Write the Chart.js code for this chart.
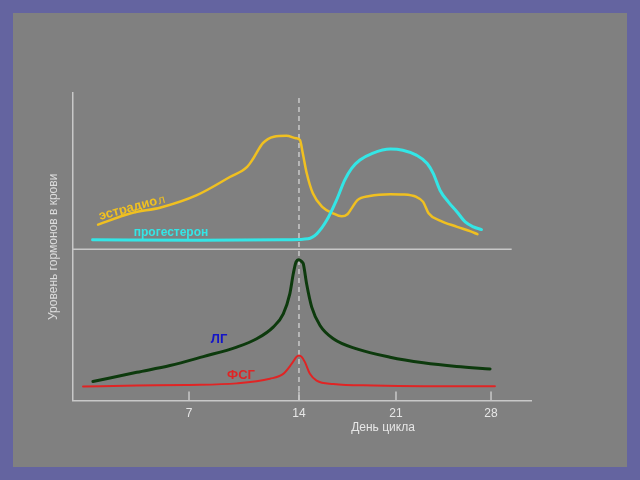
<!DOCTYPE html>
<html>
<head>
<meta charset="utf-8">
<script src="https://cdn.jsdelivr.net/npm/chart.js@4.4.0/dist/chart.umd.min.js"></script>
<style>
  html, body { margin: 0; padding: 0; background: #6464a0; }
  canvas { display: block; }
</style>
</head>
<body>
<canvas id="cycleChart" width="640" height="480"></canvas>
<script>
// дни цикла на оси X
const tickDays = [7, 14, 21, 28];

// эстрадиол
const estradiolDay = [1.2, 3.3, 5.2, 7.5, 9.6, 10.7, 11.1, 11.7, 12.4, 13.2, 13.8, 14.07, 14.27, 14.56, 15.0, 15.7, 16.45, 17.08, 17.5, 17.8, 18.2, 19.1, 20.6, 21.5, 22.5, 23.0, 23.4, 24.2, 25.5, 26.5, 27.0];
const estradiolLevel = [57.2, 60.9, 62.8, 66.8, 72.7, 76.0, 78.8, 83.7, 85.8, 86.1, 85.3, 84.7, 80.5, 73.9, 67.4, 62.9, 60.9, 59.9, 60.6, 62.5, 65.1, 66.5, 67.1, 67.0, 66.2, 64.6, 60.9, 58.6, 56.5, 55.0, 54.1];

// прогестерон
const progesteroneDay = [0.85, 7.7, 13.4, 14.65, 15.3, 16.0, 16.7, 17.3, 17.8, 18.4, 19.3, 20.6, 21.5, 22.5, 23.3, 23.75, 24.24, 24.85, 25.5, 26.1, 26.7, 27.3];
const progesteroneLevel = [52.3, 52.1, 52.3, 52.6, 54.3, 58.6, 65.1, 71.7, 75.5, 78.2, 80.4, 81.8, 81.4, 79.8, 77.1, 73.8, 68.4, 64.6, 61.3, 58.1, 56.5, 55.6];

// ЛГ
const lhDay = [0.87, 3.67, 5.79, 7.91, 10.04, 11.31, 12.36, 13.0, 13.42, 13.64, 13.81, 14.0, 14.22, 14.31, 14.55, 14.92, 15.52, 16.48, 18.17, 20.57, 23.01, 25.47, 27.93];
const lhLevel = [6.2, 9.2, 11.4, 14.3, 17.4, 20.1, 23.9, 28.2, 34.8, 41.3, 45.0, 45.8, 45.1, 44.5, 38.0, 30.4, 24.4, 20.1, 16.8, 14.1, 12.3, 11.1, 10.3];

// ФСГ
const fshDay = [0.24, 3.67, 6.85, 10.04, 12.15, 13.0, 13.54, 13.85, 14.0, 14.18, 14.43, 14.79, 15.27, 16.47, 19.36, 23.01, 28.29];
const fshLevel = [4.6, 4.9, 5.1, 5.6, 7.1, 8.7, 12.0, 14.3, 14.7, 14.3, 12.5, 8.7, 6.5, 5.4, 4.9, 4.7, 4.7];

// ось дней на рисунке нарисована неравномерно - кусочно-линейная шкала
const warpDays = [-0.4, 7, 14, 21, 28, 31];
const warpFrac = [0, 0.2533, 0.4934, 0.7052, 0.9127, 1];

function interp(v, from, to) {
    if (v <= from[0]) return to[0] + (v - from[0]) * (to[1] - to[0]) / (from[1] - from[0]);
    for (let i = 1; i < from.length; i++) {
        if (v <= from[i]) {
            const t = (v - from[i - 1]) / (from[i] - from[i - 1]);
            return to[i - 1] + t * (to[i] - to[i - 1]);
        }
    }
    const n = from.length - 1;
    return to[n] + (v - from[n]) * (to[n] - to[n - 1]) / (from[n] - from[n - 1]);
}

class WarpScale extends Chart.LinearScale {
    static id = 'warp';
    static defaults = {};
    getPixelForValue(value) {
        if (value === null || isNaN(value)) return NaN;
        return this.getPixelForDecimal(interp(value, warpDays, warpFrac));
    }
    getValueForPixel(pixel) {
        return interp(this.getDecimalForPixel(pixel), warpFrac, warpDays);
    }
}
Chart.register(WarpScale);

const toPoints = (xs, ys) => xs.map((d, i) => ({ x: d, y: ys[i] }));

const FONT = "'Liberation Sans', Arial, sans-serif";
const LINE_GRAY = '#c8c8c8';

const decor = {
    id: 'decor',
    beforeDraw(chart) {
        const c = chart.ctx;
        c.save();
        c.fillStyle = '#6464a0';
        c.fillRect(0, 0, chart.width, chart.height);
        c.fillStyle = '#808080';
        c.fillRect(13, 13, 614, 454);
        c.restore();
    },
    beforeDatasetsDraw(chart) {
        const { ctx, chartArea: a, scales: { x, y } } = chart;
        ctx.save();
        ctx.strokeStyle = LINE_GRAY;
        ctx.lineWidth = 1.5;
        // граница между панелями
        const ySep = y.getPixelForValue(49.2);
        ctx.beginPath();
        ctx.moveTo(a.left, ySep);
        ctx.lineTo(x.getPixelForValue(29.55), ySep);
        ctx.stroke();
        // засечки
        tickDays.forEach(d => {
            const px = x.getPixelForValue(d);
            ctx.beginPath();
            ctx.moveTo(px, a.bottom - 9);
            ctx.lineTo(px, a.bottom);
            ctx.stroke();
        });
        // овуляция
        ctx.setLineDash([5, 4]);
        const x14 = x.getPixelForValue(14);
        ctx.beginPath();
        ctx.moveTo(x14, a.top + 5);
        ctx.lineTo(x14, a.bottom);
        ctx.stroke();
        ctx.restore();
    },
    afterDatasetsDraw(chart) {
        const ctx = chart.ctx;
        ctx.save();
        ctx.textAlign = 'center';
        ctx.textBaseline = 'middle';

        ctx.font = 'bold 12px ' + FONT;
        ctx.fillStyle = '#33e6e6';
        ctx.fillText('прогестерон', 171, 233);

        ctx.font = 'bold 13px ' + FONT;
        ctx.fillStyle = '#1414c8';
        ctx.fillText('ЛГ', 219, 339);

        ctx.fillStyle = '#e02424';
        ctx.fillText('ФСГ', 241, 375);

        ctx.font = '12px ' + FONT;
        ctx.fillStyle = '#e6e6e6';
        ctx.fillText('День цикла', 383, 428);

        // эстрадиол - наклонная подпись
        ctx.translate(100, 220);
        ctx.rotate(-15 * Math.PI / 180);
        ctx.textAlign = 'left';
        ctx.textBaseline = 'alphabetic';
        ctx.fillStyle = '#f0c020';
        ctx.font = 'bold 13px ' + FONT;
        const head = 'эстрадио';
        ctx.fillText(head, 0, 0);
        const w = ctx.measureText(head).width;
        ctx.font = '12px ' + FONT;
        ctx.fillText('л', w + 1, 0);
        ctx.restore();
    }
};

new Chart(document.getElementById('cycleChart'), {
    type: 'line',
    data: {
        datasets: [
            { label: 'прогестерон', data: toPoints(progesteroneDay, progesteroneLevel), borderColor: '#33e6e6', borderWidth: 3 },
            { label: 'эстрадиол', data: toPoints(estradiolDay, estradiolLevel), borderColor: '#f0c020', borderWidth: 2.5 },
            { label: 'ЛГ', data: toPoints(lhDay, lhLevel), borderColor: '#0d3a0d', borderWidth: 3 },
            { label: 'ФСГ', data: toPoints(fshDay, fshLevel), borderColor: '#e02424', borderWidth: 2 }
        ]
    },
    options: {
        responsive: false,
        animation: false,
        devicePixelRatio: 1,
        layout: { padding: { left: 42.6, top: 93, right: 109, bottom: 53 } },
        elements: {
            point: { radius: 0 },
            line: { cubicInterpolationMode: 'monotone', fill: false, borderCapStyle: 'round' }
        },
        plugins: { legend: { display: false }, tooltip: { enabled: false } },
        scales: {
            x: {
                type: 'warp',
                min: -0.4,
                max: 31,
                afterBuildTicks: s => { s.ticks = tickDays.map(v => ({ value: v })); },
                grid: { display: false, drawTicks: false },
                border: { display: true, color: LINE_GRAY, width: 1.5 },
                ticks: { color: '#e6e6e6', font: { family: FONT, size: 12 }, padding: 6, maxRotation: 0 }
            },
            y: {
                min: 0,
                max: 100,
                grid: { display: false, drawTicks: false },
                border: { display: true, color: LINE_GRAY, width: 1.5 },
                ticks: { display: false },
                title: {
                    display: true,
                    text: 'Уровень гормонов в крови',
                    color: '#dcdcdc',
                    font: { family: FONT, size: 12 },
                    padding: { top: 4, bottom: 12 }
                }
            }
        }
    },
    plugins: [decor]
});
</script>
</body>
</html>
